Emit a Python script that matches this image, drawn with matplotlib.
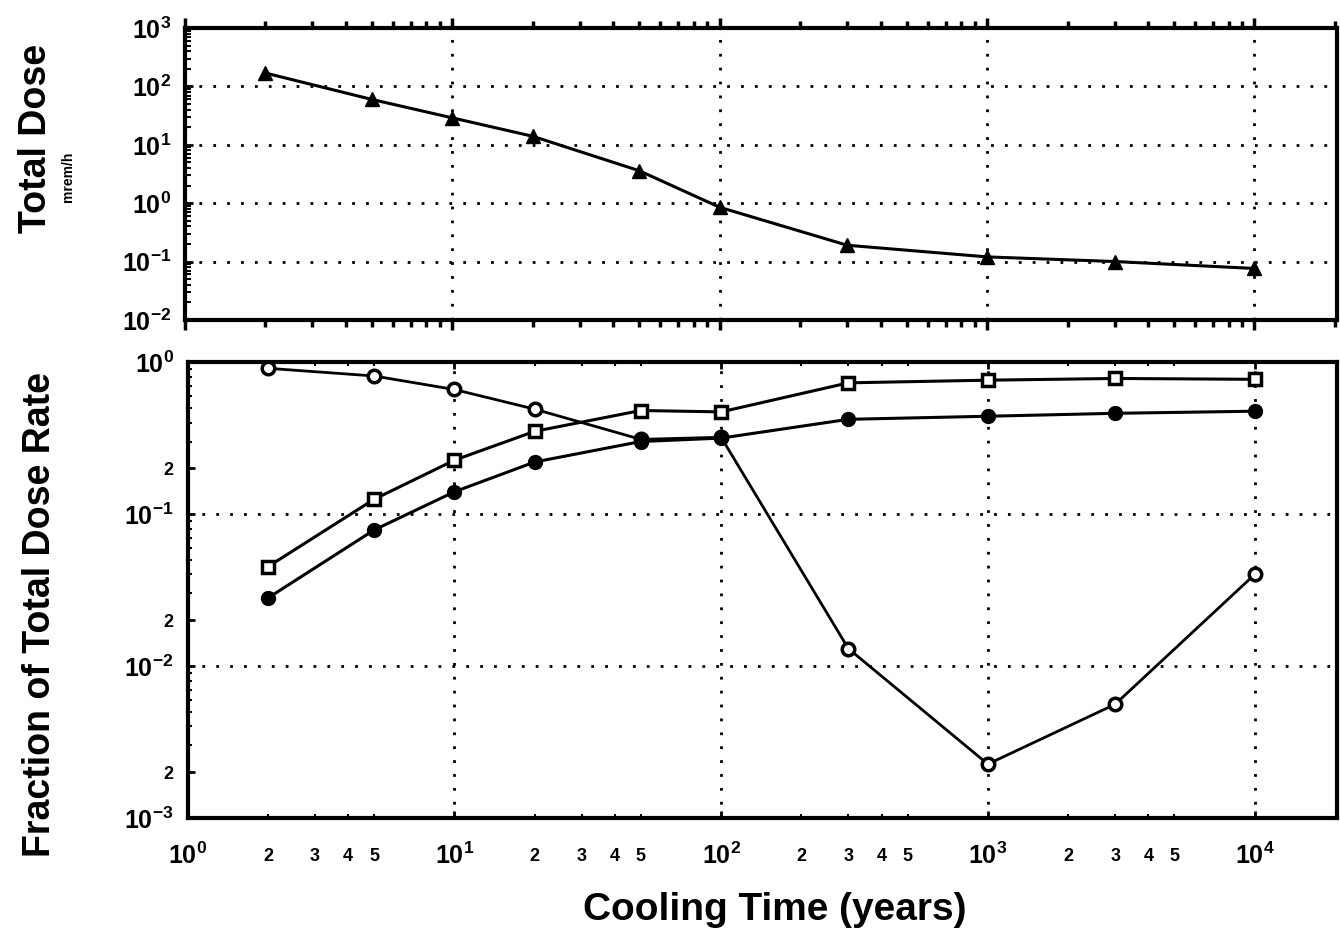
import math
import matplotlib
matplotlib.use("Agg")
import matplotlib.pyplot as plt
from matplotlib.ticker import FixedLocator, FixedFormatter, LogLocator, NullFormatter

# ---- data ----
cooling_time = [2, 5, 10, 20, 50, 100, 300, 1000, 3000, 10000]
total_dose = [170, 60, 29, 14, 3.6, 0.85, 0.19, 0.12, 0.10, 0.076]
frac_open_circle = [0.91, 0.81, 0.66, 0.49, 0.31, 0.32, 0.013, 0.00226, 0.0056, 0.040]
frac_square = [0.045, 0.125, 0.226, 0.35, 0.48, 0.47, 0.73, 0.76, 0.78, 0.77]
frac_filled_circle = [0.028, 0.0785, 0.14, 0.22, 0.30, 0.316, 0.42, 0.44, 0.46, 0.475]

x_major = [1, 10, 100, 1000, 10000]
x_major_labels = [r'$\mathbf{10^{0}}$', r'$\mathbf{10^{1}}$', r'$\mathbf{10^{2}}$', r'$\mathbf{10^{3}}$', r'$\mathbf{10^{4}}$']
x_minor_label_vals = [2, 3, 4, 5]
top_y_ticks = [1e-2, 1e-1, 1e0, 1e1, 1e2, 1e3]
top_y_labels = [r'$\mathbf{10^{-2}}$', r'$\mathbf{10^{-1}}$', r'$\mathbf{10^{0}}$', r'$\mathbf{10^{1}}$', r'$\mathbf{10^{2}}$', r'$\mathbf{10^{3}}$']
bot_y_ticks = [1e-3, 2e-3, 1e-2, 2e-2, 1e-1, 2e-1, 1e0]
bot_y_labels = [r'$\mathbf{10^{-3}}$', '2', r'$\mathbf{10^{-2}}$', '2', r'$\mathbf{10^{-1}}$', '2', r'$\mathbf{10^{0}}$']

plt.rcParams['font.family'] = ['Liberation Sans', 'DejaVu Sans']
plt.rcParams['mathtext.fontset'] = 'custom'
plt.rcParams['mathtext.bf'] = 'Liberation Sans:bold'
plt.rcParams['mathtext.rm'] = 'Liberation Sans'

fig = plt.figure(figsize=(13.4, 9.38), dpi=100)
ax1 = fig.add_axes([0.138, 0.659, 0.860, 0.311])
ax2 = fig.add_axes([0.140, 0.128, 0.858, 0.486])

xmin, xmax = 1, 10 ** 4.31

for ax in (ax1, ax2):
    ax.set_xscale('log')
    ax.set_yscale('log')
    ax.set_xlim(xmin, xmax)
    for s in ax.spines.values():
        s.set_linewidth(3)
    ax.grid(True, which='major', linestyle=(0, (1, 4)), color='black', linewidth=2.0)

# top panel
ax1.plot(cooling_time, total_dose, color='black', lw=2.2, marker='^', ms=10, mfc='black', mec='black')
ax1.set_ylim(1e-2, 1e3)
ax1.yaxis.set_major_locator(FixedLocator(top_y_ticks))
ax1.yaxis.set_major_formatter(FixedFormatter(top_y_labels))
ax1.yaxis.set_minor_locator(LogLocator(base=10, subs=range(2, 10), numticks=20))
ax1.yaxis.set_minor_formatter(NullFormatter())
ax1.xaxis.set_major_locator(FixedLocator(x_major))
ax1.xaxis.set_minor_locator(LogLocator(base=10, subs=range(2, 10), numticks=20))
ax1.xaxis.set_major_formatter(NullFormatter())
ax1.xaxis.set_minor_formatter(NullFormatter())
ax1.tick_params(axis='x', which='both', direction='out', top=True, bottom=True, length=7, width=2.5)
ax1.tick_params(axis='x', which='minor', length=5)
ax1.tick_params(axis='y', which='major', direction='in', length=6, width=2, labelsize=18, pad=10)
ax1.tick_params(axis='y', which='minor', direction='in', length=4, width=1.5)

# bottom panel
ax2.plot(cooling_time, frac_open_circle, color='black', lw=2.0, marker='o', ms=9, mfc='white', mec='black', mew=2.5)
ax2.plot(cooling_time, frac_square, color='black', lw=2.2, marker='s', ms=9, mfc='white', mec='black', mew=2.5)
ax2.plot(cooling_time, frac_filled_circle, color='black', lw=2.2, marker='o', ms=10, mfc='black', mec='black')
ax2.set_ylim(1e-3, 1e0)
ax2.yaxis.set_major_locator(FixedLocator(bot_y_ticks))
ax2.yaxis.set_major_formatter(FixedFormatter(bot_y_labels))
ax2.yaxis.set_minor_locator(LogLocator(base=10, subs=range(2, 10), numticks=20))
ax2.yaxis.set_minor_formatter(NullFormatter())
ax2.xaxis.set_major_locator(FixedLocator(x_major))
ax2.xaxis.set_major_formatter(FixedFormatter(x_major_labels))
minor_pos = [m * 10 ** d for d in range(0, 4) for m in x_minor_label_vals]
ax2.xaxis.set_minor_locator(FixedLocator(minor_pos))
ax2.xaxis.set_minor_formatter(FixedFormatter([str(m) for d in range(0, 4) for m in x_minor_label_vals]))
ax2.tick_params(axis='x', which='major', direction='in', top=True, length=5, width=2, labelsize=18, pad=18)
ax2.tick_params(axis='x', which='minor', direction='in', top=True, length=3, width=1.5, labelsize=13, pad=22)
for lbl in ax2.xaxis.get_minorticklabels():
    lbl.set_fontweight('bold')
ax2.tick_params(axis='y', which='major', direction='in', length=5, width=2, labelsize=18, pad=10)
ax2.tick_params(axis='y', which='minor', direction='in', length=3, width=1.5)
for lbl in ax2.yaxis.get_majorticklabels():
    if lbl.get_text() == '2':
        lbl.set_fontsize(13)
        lbl.set_fontweight('bold')
for line, val in zip(ax2.yaxis.get_gridlines(), bot_y_ticks):
    if abs(val - 10 ** round(math.log10(val))) > 1e-12:
        line.set_visible(False)

# labels
fig.text(0.027, 0.852, 'Total Dose', rotation=90, ha='center', va='center', fontsize=27, fontweight='bold')
fig.text(0.051, 0.812, 'mrem/h', rotation=90, ha='center', va='center', fontsize=10, fontweight='bold')
fig.text(0.030, 0.345, 'Fraction of Total Dose Rate', rotation=90, ha='center', va='center', fontsize=27, fontweight='bold')
fig.text(0.578, 0.030, 'Cooling Time (years)', ha='center', va='center', fontsize=28, fontweight='bold')

fig.savefig('out.png', dpi=100)
